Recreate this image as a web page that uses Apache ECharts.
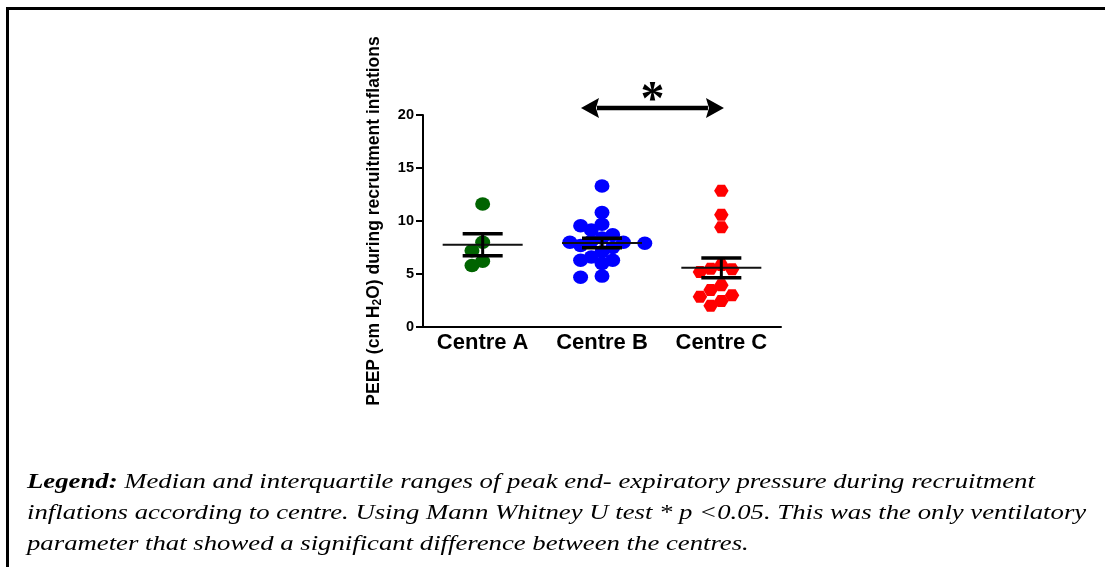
<!DOCTYPE html>
<html>
<head>
<meta charset="utf-8">
<style>
  html, body { margin: 0; padding: 0; background: #fff; }
  #chart { width: 1105px; height: 567px; }
</style>
<script src="https://cdn.jsdelivr.net/npm/echarts/dist/echarts.min.js"></script>
</head>
<body>
<div id="chart"></div>
<script>
// PEEP during recruitment inflations, per centre (cm H2O)
const categories = ['Centre A', 'Centre B', 'Centre C'];
const centreA = [11.6, 8.0, 7.2, 6.2, 5.8];
const centreB = [13.3, 10.8, 9.7, 9.55, 9.15, 8.7, 8.4, 8.1, 8.0, 8.0,
                 7.9, 7.7, 7.5, 7.1, 6.6, 6.3, 6.3, 6.0, 4.8, 4.7];
const centreC = [12.85, 10.6, 9.4, 5.85, 5.5, 5.45, 5.2, 3.95, 3.5, 3.0, 2.85, 2.45, 2.0];
const yTicks = [0, 5, 10, 15, 20];
const groupColors = ['#006400', '#0000ff', '#ff0000'];
const significance = { from: 1, to: 2, label: '*' };   // Centre B vs Centre C

const legendLines = [
  '{b|Legend:} Median and interquartile ranges of peak end- expiratory pressure during recruitment',
  'inflations according to centre. Using Mann Whitney U test * p <0.05. This was the only ventilatory',
  'parameter that showed a significant difference between the centres.'
];

// plot frame
const GRID = { left: 423, top: 115, right: 324, bottom: 240 };
const plotW = 1105 - GRID.left - GRID.right;
const plotH = 567 - GRID.top - GRID.bottom;
const Y_MAX = 20;
const pxPerX = plotW / categories.length;
const pxPerY = plotH / Y_MAX;

const groups = [centreA, centreB, centreC];

// simple beeswarm: spread points sideways so dots don't pile up
function swarm(values, centre) {
  const step = 10.7, minDist = 11;
  const placed = [];
  const order = values.map((v, i) => i).sort((a, b) => values[b] - values[a]);
  const out = [];
  order.forEach(i => {
    const v = values[i];
    for (let k = 0; k < 40; k++) {
      const n = Math.ceil(k / 2);
      const dx = (k === 0 ? 0 : (k % 2 ? -n : n)) * step;
      const ok = placed.every(p => Math.hypot(p.dx - dx, (p.v - v) * pxPerY) >= minDist);
      if (ok) { placed.push({ dx, v }); out.push([centre + dx / pxPerX, v]); break; }
    }
  });
  return out;
}

function meanSem(values) {
  const n = values.length;
  const m = values.reduce((s, v) => s + v, 0) / n;
  const sd = Math.sqrt(values.reduce((s, v) => s + (v - m) * (v - m), 0) / (n - 1));
  const sem = sd / Math.sqrt(n);
  return [m, m - sem, m + sem];
}

const summary = groups.map((g, i) => [i + 0.5].concat(meanSem(g)));

const hexagon = 'path://M0,5 L3,0 L9,0 L12,5 L9,10 L3,10 Z';
const symbols = ['circle', 'circle', hexagon];
const symbolSizes = [[15, 13.5], [15, 13.5], [14.5, 12]];

const FONT = '"Liberation Sans", Arial, sans-serif';
const SERIF = '"Liberation Serif", "Times New Roman", serif';

const chart = echarts.init(document.getElementById('chart'));

const option = {
  animation: false,
  backgroundColor: '#fff',
  grid: { left: GRID.left, top: GRID.top, right: GRID.right, bottom: GRID.bottom, containLabel: false },
  xAxis: [
    {
      type: 'category',
      data: categories,
      boundaryGap: true,
      axisLine: { show: true, lineStyle: { color: '#000', width: 2 } },
      axisTick: { show: false },
      axisLabel: { color: '#000', fontFamily: FONT, fontWeight: 'bold', fontSize: 22, margin: 5 },
      splitLine: { show: false }
    },
    { type: 'value', min: 0, max: categories.length, show: false }
  ],
  yAxis: {
    type: 'value',
    min: yTicks[0],
    max: yTicks[yTicks.length - 1],
    interval: yTicks[1] - yTicks[0],
    name: 'PEEP (cm H{sub|2}O) during recruitment inflations',
    nameLocation: 'middle',
    nameGap: 39,
    nameTextStyle: {
      color: '#000', fontFamily: FONT, fontWeight: 'bold', fontSize: 17.5, lineHeight: 20,
      rich: {
        sub: { fontFamily: FONT, fontWeight: 'bold', fontSize: 12, lineHeight: 12, verticalAlign: 'bottom', color: '#000' }
      }
    },
    axisLine: { show: true, lineStyle: { color: '#000', width: 2 } },
    axisTick: { show: true, length: 7, lineStyle: { color: '#000', width: 2 } },
    axisLabel: { color: '#000', fontFamily: FONT, fontWeight: 'bold', fontSize: 14.5, margin: 9 },
    splitLine: { show: false }
  },
  series: groups.map((g, i) => ({
    type: 'scatter',
    xAxisIndex: 1,
    yAxisIndex: 0,
    symbol: symbols[i],
    symbolSize: symbolSizes[i],
    itemStyle: { color: groupColors[i], opacity: 1 },
    data: swarm(g, i + 0.5),
    z: 2
  })).concat([{
    type: 'custom',
    xAxisIndex: 1,
    yAxisIndex: 0,
    z: 5,
    encode: { x: 0, y: [1, 2, 3] },
    data: summary,
    renderItem: function (params, api) {
      const x = api.value(0);
      const pm = api.coord([x, api.value(1)]);
      const plo = api.coord([x, api.value(2)]);
      const phi = api.coord([x, api.value(3)]);
      return {
        type: 'group',
        children: [
          { type: 'line', shape: { x1: pm[0] - 40, y1: pm[1], x2: pm[0] + 40, y2: pm[1] }, style: { stroke: '#111', lineWidth: 2 } },
          { type: 'line', shape: { x1: phi[0], y1: phi[1], x2: plo[0], y2: plo[1] }, style: { stroke: '#000', lineWidth: 3 } },
          { type: 'line', shape: { x1: phi[0] - 20, y1: phi[1], x2: phi[0] + 20, y2: phi[1] }, style: { stroke: '#000', lineWidth: 3.5 } },
          { type: 'line', shape: { x1: plo[0] - 20, y1: plo[1], x2: plo[0] + 20, y2: plo[1] }, style: { stroke: '#000', lineWidth: 3.5 } }
        ]
      };
    }
  }])
};

chart.setOption(option);

// significance arrow between two groups, drawn just above the top of the axis
const sigLevel = 20.65;
const pa = chart.convertToPixel({ xAxisIndex: 1, yAxisIndex: 0 }, [significance.from + 0.5 - 0.176, sigLevel]);
const pb = chart.convertToPixel({ xAxisIndex: 1, yAxisIndex: 0 }, [significance.to + 0.5 + 0.022, sigLevel]);
const headL = 18, headH = 10;

const graphics = [
  { type: 'rect', shape: { x: 7.5, y: 8.5, width: 1300, height: 800 }, style: { fill: 'none', stroke: '#000', lineWidth: 3 }, z: 10 },
  { type: 'line', shape: { x1: pa[0] + headL - 2, y1: pa[1], x2: pb[0] - headL + 2, y2: pb[1] }, style: { stroke: '#000', lineWidth: 4.5 }, z: 10 },
  { type: 'polygon', shape: { points: [[pa[0], pa[1]], [pa[0] + headL, pa[1] - headH], [pa[0] + headL - 3, pa[1]], [pa[0] + headL, pa[1] + headH]] }, style: { fill: '#000' }, z: 10 },
  { type: 'polygon', shape: { points: [[pb[0], pb[1]], [pb[0] - headL, pb[1] - headH], [pb[0] - headL + 3, pb[1]], [pb[0] - headL, pb[1] + headH]] }, style: { fill: '#000' }, z: 10 },
  { type: 'text', x: (pa[0] + pb[0]) / 2, y: pa[1] - 7,
    style: { text: significance.label, fill: '#000', font: 'bold 48px ' + SERIF, align: 'center', verticalAlign: 'middle' }, z: 10 }
];

legendLines.forEach((line, i) => {
  graphics.push({
    type: 'text',
    x: 27, y: 482 + i * 31,
    scaleX: 1.215,
    style: {
      text: line,
      fill: '#000',
      fontFamily: SERIF,
      fontStyle: 'italic',
      fontSize: 22,
      verticalAlign: 'middle',
      align: 'left',
      rich: {
        b: { fontFamily: SERIF, fontStyle: 'italic', fontWeight: 'bold', fontSize: 22, fill: '#000' }
      }
    },
    z: 10
  });
});

chart.setOption({ graphic: graphics });
</script>
</body>
</html>
